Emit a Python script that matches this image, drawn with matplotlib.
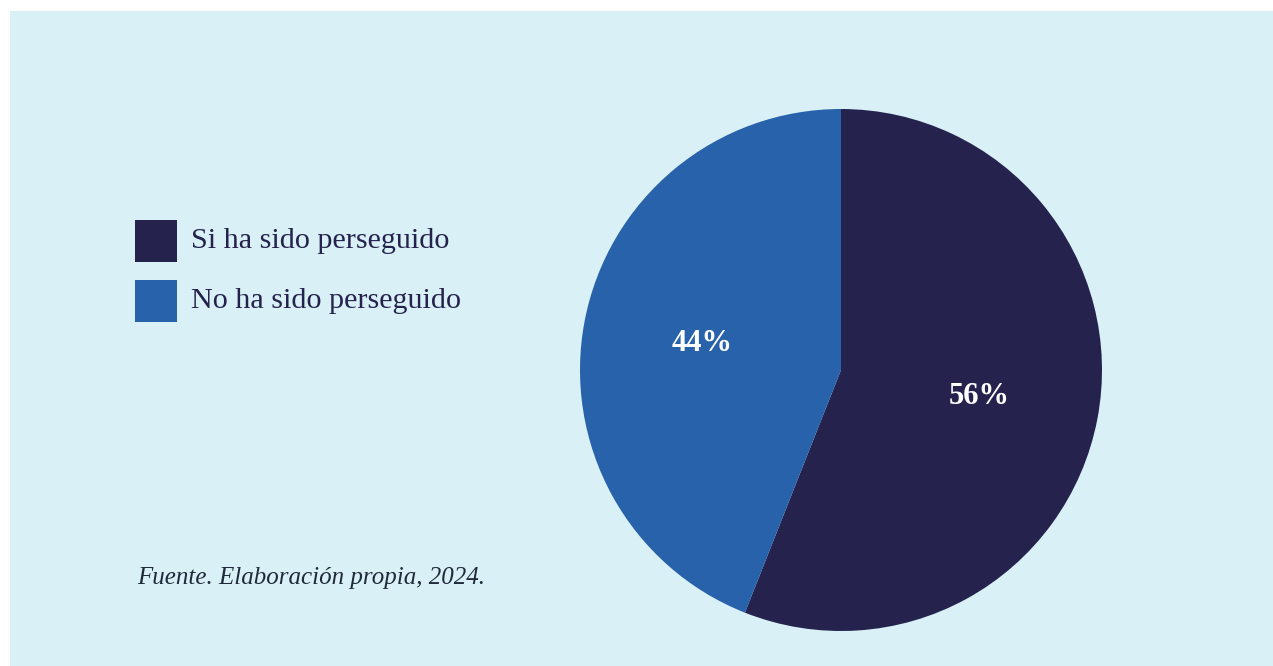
import matplotlib.pyplot as plt
from matplotlib.patches import Rectangle

# Datos del gráfico
categorias = ["Si ha sido perseguido", "No ha sido perseguido"]
porcentajes = [56, 44]
colores = ["#25234e", "#2762aa"]
fuente = "Fuente. Elaboración propia, 2024."

W, H = 1273, 666
fig = plt.figure(figsize=(W / 100, H / 100), dpi=100)
fig.patch.set_facecolor("white")

# fondo celeste
fig.patches.append(Rectangle((10 / W, 0), 1, 1 - 11 / H,
                             transform=fig.transFigure, facecolor="#d9f1f6",
                             edgecolor="none", zorder=-1))

# pastel
cx, cy, r = 841, 370, 261
ax = fig.add_axes([(cx - r) / W, (H - cy - r) / H, 2 * r / W, 2 * r / H])
ax.set_zorder(2)
wedges, textos, pct = ax.pie(porcentajes, colors=colores, startangle=90,
                             counterclock=False, autopct="%d%%",
                             pctdistance=0.54,
                             wedgeprops=dict(linewidth=0))
for t in pct:
    t.set_color("white")
    t.set_fontsize(22)
    t.set_fontweight("bold")
    t.set_family("Liberation Serif")
ax.set_xlim(-1, 1)
ax.set_ylim(-1, 1)
ax.axis("off")

# leyenda manual
for i, (cat, col) in enumerate(zip(categorias, colores)):
    y0 = 220 + i * 60
    fig.patches.append(Rectangle((135 / W, (H - y0 - 42) / H), 42 / W, 42 / H,
                                 transform=fig.transFigure, facecolor=col,
                                 edgecolor="none"))
    fig.text(191 / W, (H - y0 - 21) / H, cat, fontsize=21.7,
             family="Liberation Serif", color="#25234e", va="center")

fig.text(137 / W, (H - 578) / H, fuente, fontsize=18, style="italic",
         family="Liberation Serif", color="#1f2a3a", va="center")

fig.savefig("out.png", dpi=100, facecolor=fig.get_facecolor())
